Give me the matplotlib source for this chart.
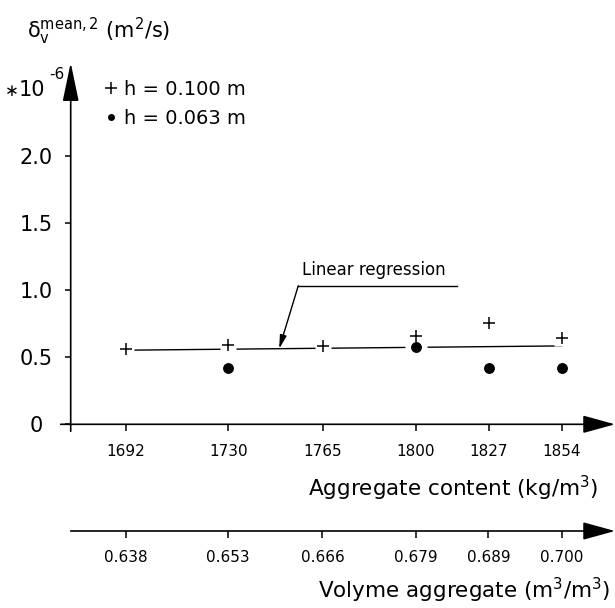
import numpy as np
import matplotlib
matplotlib.use("Agg")
import matplotlib.pyplot as plt

plt.rcParams['font.family'] = ['DejaVu Sans']
plt.rcParams['mathtext.default'] = 'regular'

# ---------------- data ----------------
kg_content = [1692, 1730, 1765, 1800, 1827, 1854]           # kg/m3
vol_aggregate = [0.638, 0.653, 0.666, 0.679, 0.689, 0.700]   # m3/m3
delta_h100 = [0.565, 0.592, 0.583, 0.662, 0.756, 0.642]      # *1e-6 m2/s, h = 0.100 m
kg_h063 = [1730, 1800, 1827, 1854]
delta_h063 = [0.418, 0.579, 0.418, 0.418]                    # h = 0.063 m
reg_kg = [1692, 1854]
reg_delta = [0.553, 0.585]
y_ticks = [0, 0.5, 1.0, 1.5, 2.0]
y_labels = ['0', '0.5', '1.0', '1.5', '2.0']

# ---------------- layout ----------------
W, H = 615, 608
def fx(px): return px / W
def fy(py): return 1 - py / H

AX_L, AX_R, AX_T, AX_B = 70.7, 615.0, 62.7, 424.3
ax_w = AX_R - AX_L
ax_h = AX_B - AX_T
px_per_unit = 134.0
tick_pos = [55.3, 157.6, 251.8, 345.3, 417.8, 491.0]  # tick spacing on drawing (px from origin)


def make_map(src, dst):
    src = np.asarray(src, float)
    dst = np.asarray(dst, float)
    lo_s = (dst[1] - dst[0]) / (src[1] - src[0])
    hi_s = (dst[-1] - dst[-2]) / (src[-1] - src[-2])

    def f(x):
        x = np.asarray(x, float)
        y = np.interp(x, src, dst)
        y = np.where(x < src[0], dst[0] + (x - src[0]) * lo_s, y)
        y = np.where(x > src[-1], dst[-1] + (x - src[-1]) * hi_s, y)
        return y
    return f


fig = plt.figure(figsize=(6.15, 6.08), dpi=100)
ax = fig.add_axes([fx(AX_L), fy(AX_B), ax_w / W, ax_h / H])

kg_fwd = make_map(kg_content, tick_pos)
kg_inv = make_map(tick_pos, kg_content)
ax.set_xscale('function', functions=(kg_fwd, kg_inv))
ax.set_xlim(float(kg_inv(0.0)), float(kg_inv(ax_w)))
ax.set_ylim(0, ax_h / px_per_unit)

for s in ax.spines.values():
    s.set_visible(False)
ax.patch.set_visible(False)

ax.set_xticks(kg_content, labels=[str(v) for v in kg_content])
ax.tick_params(axis='x', direction='out', length=5, width=1.1, pad=9, labelsize=11)
ax.set_yticks(y_ticks, labels=y_labels)
ax.tick_params(axis='y', direction='out', length=4.1, width=1.1, pad=21, labelsize=15)
for lbl in ax.get_yticklabels():
    lbl.set_horizontalalignment('center')

arrow_kw = dict(color='black', lw=1.2, shrinkA=0, shrinkB=0, mutation_scale=10)
# x axis
ax.annotate('', xy=(1, 0), xycoords='axes fraction', xytext=(-10 / ax_w, 0),
            textcoords='axes fraction', annotation_clip=False,
            arrowprops=dict(arrowstyle='-|>,head_length=2.0,head_width=0.55', **arrow_kw))
# y axis
ax.annotate('', xy=(0, 1), xycoords='axes fraction', xytext=(0, -7 / ax_h),
            textcoords='axes fraction', annotation_clip=False,
            arrowprops=dict(arrowstyle='-|>,head_length=2.4,head_width=0.5', **arrow_kw))

# regression line
ax.plot(reg_kg, reg_delta, color='black', lw=1.0, zorder=2, clip_on=False)
# white halos to break the regression line around markers
ax.plot(kg_content, delta_h100, ls='none', marker='s', ms=11.5, mfc='white', mec='none', zorder=3)
ax.plot(kg_h063, delta_h063, ls='none', marker='o', ms=16, mfc='white', mec='none', zorder=3)
# markers
l1, = ax.plot(kg_content, delta_h100, ls='none', marker='+', ms=8, mew=1.1, color='black',
              zorder=4, label='h = 0.100 m')
l2, = ax.plot(kg_h063, delta_h063, ls='none', marker='o', ms=6.8, color='black',
              zorder=4, label='h = 0.063 m')

leg = ax.legend(handles=[l1, l2], loc='upper left', bbox_to_anchor=(fx(104), fy(80)),
                bbox_transform=fig.transFigure, frameon=False, fontsize=14,
                handlelength=0.7, handletextpad=0.35, borderpad=0, borderaxespad=0,
                labelspacing=0.5)
leg.legend_handles[1].set_markersize(4)

# linear regression annotation
x_tip = 1748.9
t = (kg_fwd(x_tip) - kg_fwd(reg_kg[0])) / (kg_fwd(reg_kg[1]) - kg_fwd(reg_kg[0]))
y_tip = reg_delta[0] + (reg_delta[1] - reg_delta[0]) * float(t)
x_elbow, y_elbow, x_end = 1756.0, 1.034, 1815.2
ax.annotate('', xy=(x_tip, y_tip), xytext=(x_elbow, y_elbow),
            arrowprops=dict(arrowstyle='-|>,head_length=0.8,head_width=0.2',
                            color='black', lw=1.0, shrinkA=0, shrinkB=0, mutation_scale=10))
ax.plot([x_elbow, x_end], [y_elbow, y_elbow], color='black', lw=1.0)
ax.text(1757.5, 1.15, 'Linear regression', fontsize=12, ha='left', va='center')

# second (volume) axis
ax2 = fig.add_axes([fx(AX_L), fy(531), ax_w / W, 1e-4])
vol_fwd = make_map(vol_aggregate, tick_pos)
vol_inv = make_map(tick_pos, vol_aggregate)
ax2.set_xscale('function', functions=(vol_fwd, vol_inv))
ax2.set_xlim(float(vol_inv(0.0)), float(vol_inv(ax_w)))
for s in ax2.spines.values():
    s.set_visible(False)
ax2.patch.set_visible(False)
ax2.set_yticks([])
ax2.set_xticks(vol_aggregate, labels=[f'{v:.3f}' for v in vol_aggregate])
ax2.tick_params(axis='x', direction='out', length=5, width=1.1, pad=9, labelsize=11)
ax2.annotate('', xy=(1, 0), xycoords='axes fraction', xytext=(0, 0),
             textcoords='axes fraction', annotation_clip=False,
             arrowprops=dict(arrowstyle='-|>,head_length=2.0,head_width=0.55', **arrow_kw))

# texts
fig.text(fx(27), fy(38), 'δ$_{v}^{mean,2}$ (m$^{2}$/s)', fontsize=15, va='baseline', ha='left')
fig.text(fx(19), fy(96), '∗', fontsize=12, va='baseline', ha='right')
fig.text(fx(19), fy(96), '10', fontsize=15, va='baseline', ha='left')
fig.text(fx(49), fy(79), '-6', fontsize=11, va='baseline', ha='left')
fig.text(fx(598), fy(496), 'Aggregate content (kg/m$^{3}$)', fontsize=15.5, va='baseline', ha='right')
fig.text(fx(610), fy(598), 'Volyme aggregate (m$^{3}$/m$^{3}$)', fontsize=15.5, va='baseline', ha='right')

fig.savefig('out.png', dpi=100)
